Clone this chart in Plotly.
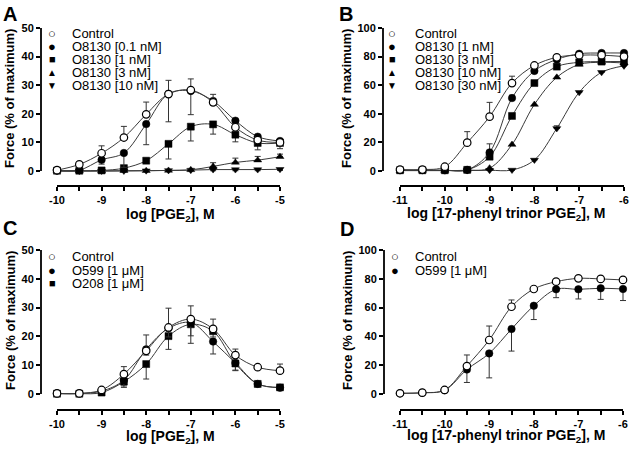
import plotly.graph_objects as go

# ---- data ----
log_pge2 = [-10, -9.5, -9, -8.5, -8, -7.5, -7, -6.5, -6, -5.5, -5]
log_17p = [-11, -10.5, -10, -9.5, -9, -8.5, -8, -7.5, -7, -6.5, -6]

pge2_ticks = [-10, -9, -8, -7, -6, -5]
pge2_ticktext = ["-10", "-9", "-8", "-7", "-6", "-5"]
p17_ticks = [-11, -10, -9, -8, -7, -6]
p17_ticktext = ["-11", "-10", "-9", "-8", "-7", "-6"]
force50_ticks = [0, 10, 20, 30, 40, 50]
force100_ticks = [0, 20, 40, 60, 80, 100]

# Panel A
a_control = [0.3, 2.3, 6.2, 11.7, 19.8, 26.9, 28.3, 24.0, 15.3, 10.8, 10.0]
a_control_up = [0, 0.4, 2.6, 3.9, 4.3, 4.8, 3.9, 2.8, 0.8, 0.9, 0.6]
a_o8130_01 = [0.2, 0.3, 3.9, 6.3, 16.4, 27.0, 28.0, 24.5, 17.6, 12.0, 10.5]
a_o8130_01_dn = [0, 0, 1.5, 5.0, 7.2, 9.8, 8.3, 1.5, 1.0, 1.2, 0.8]
a_o8130_1 = [0.1, 0.1, 0.2, 1.0, 3.6, 9.5, 15.5, 16.3, 12.7, 9.8, 9.8]
a_o8130_1_dn = [0, 0, 0, 0.8, 0.8, 5.3, 5.0, 3.4, 2.5, 2.4, 2.0]
a_o8130_3 = [0, 0, 0, 0.1, 0.1, 0.2, 0.4, 1.6, 3.0, 3.8, 5.0]
a_o8130_3_up = [0, 0, 0, 0, 0, 0, 0.5, 1.3, 1.5, 1.3, 0.9]
a_o8130_10 = [0, 0, 0, 0, 0.1, 0.2, 0.3, 0.5, 0.5, 0.5, 0.6]
a_o8130_10_dn = [0, 0, 0, 0.3, 0.3, 0.3, 0.3, 0.4, 0.4, 0.4, 0.4]

# Panel B
b_control = [1.0, 1.0, 3.0, 19.8, 38.0, 61.5, 73.8, 79.5, 81.0, 81.0, 80.0]
b_control_up = [0, 0, 0.5, 7.7, 10.0, 4.8, 1.0, 0.8, 0.8, 0.8, 0.8]
b_o8130_1 = [0.5, 0.6, 0.5, 0.8, 13.0, 51.0, 70.0, 78.0, 82.0, 82.5, 82.5]
b_o8130_1_up = [0, 0, 0, 0, 6.0, 2.0, 1.0, 0.5, 0.5, 0.5, 0.5]
b_o8130_3 = [0.5, 0.5, 0.5, 0.8, 10.0, 38.5, 61.5, 73.0, 76.0, 76.5, 76.5]
b_o8130_10 = [0.3, 0.3, 0.3, 0.5, 2.0, 18.5, 46.5, 65.5, 74.5, 76.0, 75.5]
b_o8130_30 = [0.3, 0.3, 0.3, 0.3, 0.5, 0.7, 7.7, 29.8, 55.0, 69.0, 73.5]
b_o8130_30_up = [0, 0, 0, 0, 0, 0, 0.5, 1.8, 0.5, 0.5, 0.5]

# Panel C
c_control = [0.2, 0.2, 1.4, 6.9, 15.0, 23.1, 26.0, 22.6, 13.5, 9.3, 8.1]
c_control_up = [0, 0, 0.3, 2.6, 5.5, 6.7, 4.6, 3.4, 2.1, 0.8, 2.3]
c_o599 = [0.2, 0.2, 1.0, 4.8, 15.5, 22.8, 24.8, 18.2, 10.8, 3.5, 2.2]
c_o599_dn = [0, 0, 0.3, 2.5, 2.0, 3.0, 7.2, 4.3, 2.5, 0.5, 0.5]
c_o208 = [0.1, 0.1, 0.5, 4.3, 10.4, 20.1, 24.2, 21.8, 10.6, 3.5, 2.3]
c_o208_dn = [0, 0, 0, 1.5, 5.2, 4.6, 4.0, 2.0, 2.5, 0.4, 0.4]

# Panel D
d_control = [0.5, 0.9, 2.8, 19.4, 37.5, 60.6, 72.9, 78.0, 80.3, 79.9, 79.2]
d_control_up = [0, 0, 0.5, 7.7, 9.7, 4.7, 0.8, 0.5, 0.5, 0.5, 0.5]
d_o599 = [0.5, 0.8, 2.6, 17.0, 28.2, 45.1, 61.3, 72.7, 72.7, 73.4, 72.9]
d_o599_dn = [0, 0, 0.3, 9.0, 17.0, 15.3, 9.6, 5.8, 6.7, 7.7, 8.0]

# ---- layout helpers ----
W, H = 630, 449
FONT = "Arial, Liberation Sans, sans-serif"
INK = "#000000"
CURVE = "#3a3a3a"

MARKERS = {
    "open": dict(symbol="circle", color="white", size=7.5, line=dict(color=INK, width=1.2)),
    "dot": dict(symbol="circle", color=INK, size=7.5, line=dict(color=INK, width=0.5)),
    "square": dict(symbol="square", color=INK, size=7, line=dict(color=INK, width=0.5)),
    "up": dict(symbol="triangle-up", color=INK, size=7, line=dict(color=INK, width=0.5)),
    "down": dict(symbol="triangle-down", color=INK, size=7, line=dict(color=INK, width=0.5)),
}
GLYPHS = {"open": ("○", 13), "dot": ("●", 13), "square": ("■", 11), "up": ("▲", 10), "down": ("▼", 10)}


def fx(p):
    return p / W


def fy(p):
    return 1 - p / H


def span(lo_px, hi_px, a_px, a_val, b_px, b_val):
    k = (b_val - a_val) / (b_px - a_px)
    return [a_val + (lo_px - a_px) * k, a_val + (hi_px - a_px) * k]


# pixel boxes: left, right, top, bottom; calibrations: (px, value) pairs
PANELS = [
    dict(tag="A", n="", box=(41, 287, 22, 186), xcal=(57, -10, 280, -5), ycal=(171, 0, 28, 50),
         xt=(pge2_ticks, pge2_ticktext), yt=force50_ticks, xtitle="log [PGE<sub>2</sub>], M",
         xtitle_at=(170, 215), ytitle_at=(10, 99), label_at=(10, 14), legend_at=(52, 70, 33.5, 12.9)),
    dict(tag="B", n="2", box=(383, 629, 22, 186), xcal=(400, -11, 624, -6), ycal=(171, 0, 28, 100),
         xt=(p17_ticks, p17_ticktext), yt=force100_ticks, xtitle="log [17-phenyl trinor PGE<sub>2</sub>], M",
         xtitle_at=(506, 214), ytitle_at=(347, 99), label_at=(346, 14), legend_at=(392, 413, 33.5, 12.9)),
    dict(tag="C", n="3", box=(41, 287, 244, 410), xcal=(57, -10, 280, -5), ycal=(394, 0, 250, 50),
         xt=(pge2_ticks, pge2_ticktext), yt=force50_ticks, xtitle="log [PGE<sub>2</sub>], M",
         xtitle_at=(170, 437), ytitle_at=(10, 321), label_at=(10, 228), legend_at=(52, 70, 256.7, 13.3)),
    dict(tag="D", n="4", box=(384, 629, 244, 410), xcal=(400, -11, 623, -6), ycal=(394, 0, 250, 100),
         xt=(p17_ticks, p17_ticktext), yt=force100_ticks, xtitle="log [17-phenyl trinor PGE<sub>2</sub>], M",
         xtitle_at=(506, 436), ytitle_at=(347, 321), label_at=(347, 229), legend_at=(395, 413, 256.7, 13.3)),
]

# series per panel, in legend order; drawn in reverse so Control sits on top
SERIES = {
    "A": [
        ("Control", log_pge2, a_control, a_control_up, None, "open"),
        ("O8130 [0.1 nM]", log_pge2, a_o8130_01, None, a_o8130_01_dn, "dot"),
        ("O8130 [1 nM]", log_pge2, a_o8130_1, None, a_o8130_1_dn, "square"),
        ("O8130 [3 nM]", log_pge2, a_o8130_3, a_o8130_3_up, None, "up"),
        ("O8130 [10 nM]", log_pge2, a_o8130_10, None, a_o8130_10_dn, "down"),
    ],
    "B": [
        ("Control", log_17p, b_control, b_control_up, None, "open"),
        ("O8130 [1 nM]", log_17p, b_o8130_1, b_o8130_1_up, None, "dot"),
        ("O8130 [3 nM]", log_17p, b_o8130_3, None, None, "square"),
        ("O8130 [10 nM]", log_17p, b_o8130_10, None, None, "up"),
        ("O8130 [30 nM]", log_17p, b_o8130_30, b_o8130_30_up, None, "down"),
    ],
    "C": [
        ("Control", log_pge2, c_control, c_control_up, None, "open"),
        ("O599 [1 μM]", log_pge2, c_o599, None, c_o599_dn, "dot"),
        ("O208 [1 μM]", log_pge2, c_o208, None, c_o208_dn, "square"),
    ],
    "D": [
        ("Control", log_17p, d_control, d_control_up, None, "open"),
        ("O599 [1 μM]", log_17p, d_o599, None, d_o599_dn, "dot"),
    ],
}

fig = go.Figure()
layout = {}
shapes = []
annotations = []

for p in PANELS:
    n = p["n"]
    left, right, top, bottom = p["box"]
    xr = span(left, right, *p["xcal"])
    yr = span(bottom, top, *p["ycal"])
    xv, xtext = p["xt"]

    layout[f"xaxis{n}"] = dict(
        domain=[fx(left), fx(right)], range=xr, anchor=f"y{n}",
        showline=False, showgrid=False, zeroline=False,
        tickvals=xv, ticktext=xtext, ticks="outside", ticklen=4, tickwidth=1.5, tickcolor=INK,
        minor=dict(dtick=0.5, tick0=0, ticks="outside", ticklen=4, tickwidth=1.5, tickcolor=INK),
        tickfont=dict(family=FONT, size=11, color=INK, weight="bold"),
    )
    layout[f"yaxis{n}"] = dict(
        domain=[fy(bottom), fy(top)], range=yr, anchor=f"x{n}",
        showline=False, showgrid=False, zeroline=False,
        tickvals=p["yt"], ticks="outside", ticklen=4, tickwidth=1.5, tickcolor=INK,
        tickfont=dict(family=FONT, size=11, color=INK, weight="bold"),
    )

    xref = f"x{n}"
    yref = f"y{n}"
    shapes.append(dict(type="line", xref=xref, yref=f"{yref} domain", x0=xv[0], x1=xv[-1], y0=0, y1=0,
                       line=dict(color=INK, width=1.8)))
    shapes.append(dict(type="line", xref=f"{xref} domain", yref=yref, x0=0, x1=0, y0=p["yt"][0], y1=p["yt"][-1],
                       line=dict(color=INK, width=1.8)))

    for name, xs, ys, up, dn, style in reversed(SERIES[p["tag"]]):
        err = None
        if up is not None or dn is not None:
            err = dict(type="data", symmetric=False,
                       array=up if up is not None else [0] * len(ys),
                       arrayminus=dn if dn is not None else [0] * len(ys),
                       width=3, thickness=1, color="#333333")
        fig.add_trace(go.Scatter(
            x=xs, y=ys, xaxis=xref, yaxis=yref, name=name, mode="lines+markers",
            line=dict(color=CURVE, width=1, shape="spline", smoothing=1.0),
            marker=MARKERS[style], error_y=err, showlegend=False,
        ))

    # legend drawn as text rows
    gx, tx, gy0, step = p["legend_at"]
    for i, (name, *_, style) in enumerate(SERIES[p["tag"]]):
        glyph, gsize = GLYPHS[style]
        yy = gy0 + i * step
        annotations.append(dict(xref="paper", yref="paper", x=fx(gx), y=fy(yy), text=glyph, showarrow=False,
                                xanchor="center", yanchor="middle",
                                font=dict(family=FONT, size=gsize, color=INK)))
        annotations.append(dict(xref="paper", yref="paper", x=fx(tx), y=fy(yy), text=name, showarrow=False,
                                xanchor="left", yanchor="middle",
                                font=dict(family=FONT, size=13, color=INK)))

    annotations.append(dict(xref="paper", yref="paper", x=fx(p["xtitle_at"][0]), y=fy(p["xtitle_at"][1]),
                            text=p["xtitle"], showarrow=False, xanchor="center", yanchor="middle",
                            font=dict(family=FONT, size=14, color=INK, weight="bold")))
    annotations.append(dict(xref="paper", yref="paper", x=fx(p["ytitle_at"][0]), y=fy(p["ytitle_at"][1]),
                            text="Force (% of maximum)", textangle=-90, showarrow=False,
                            xanchor="center", yanchor="middle",
                            font=dict(family=FONT, size=13, color=INK, weight="bold")))
    annotations.append(dict(xref="paper", yref="paper", x=fx(p["label_at"][0]), y=fy(p["label_at"][1]),
                            text=p["tag"], showarrow=False, xanchor="center", yanchor="middle",
                            font=dict(family=FONT, size=20, color=INK, weight="bold")))

fig.update_layout(
    width=W, height=H,
    margin=dict(l=0, r=0, t=0, b=0),
    paper_bgcolor="white", plot_bgcolor="white",
    showlegend=False,
    shapes=shapes, annotations=annotations,
    **layout,
)

# the page body has a default 8px margin; drop it so the figure fills the window
fig.write_html("out.html", config={"displayModeBar": False},
               post_script="document.body.style.margin='0';")
